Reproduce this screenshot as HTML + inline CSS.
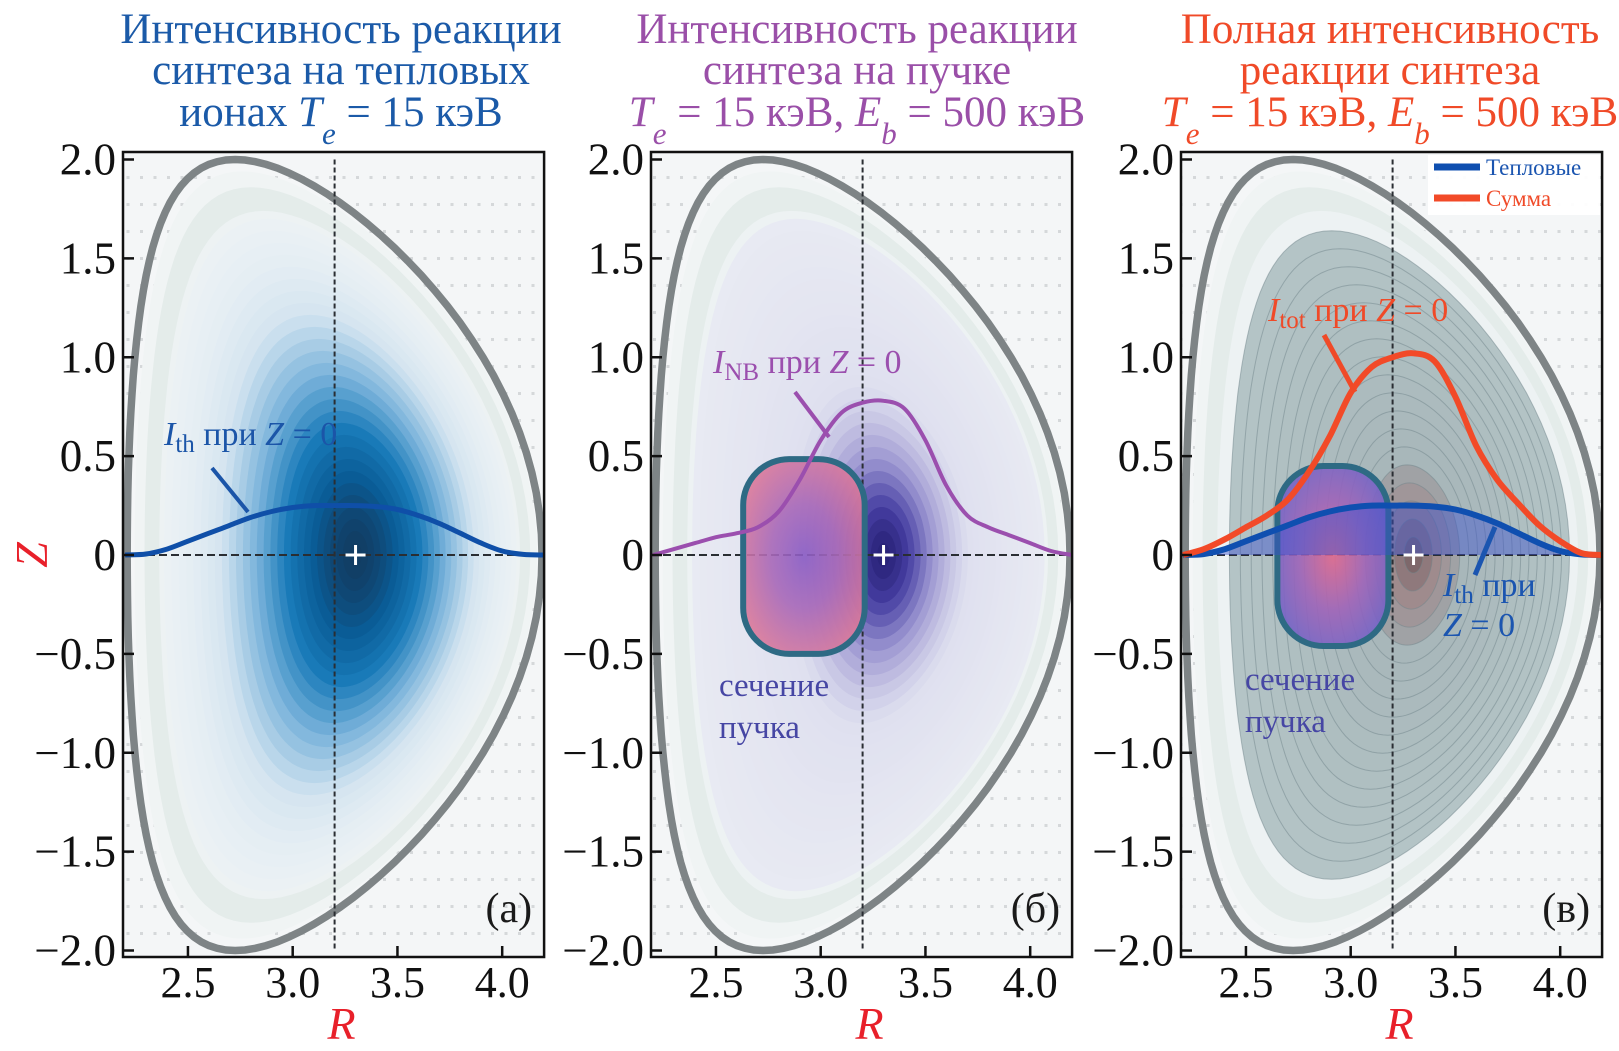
<!DOCTYPE html>
<html><head><meta charset="utf-8">
<style>
html,body{margin:0;padding:0;background:#fff;}
svg{display:block;font-family:"Liberation Serif","DejaVu Serif",serif;}
</style></head>
<body>
<svg id="fig" width="1619" height="1051" viewBox="0 0 1619 1051" xmlns="http://www.w3.org/2000/svg">
<defs>
  <pattern id="dots" x="0" y="4" width="13.5" height="27" patternUnits="userSpaceOnUse">
    <rect x="5" y="10" width="3" height="3" fill="#d5d8da"/>
  </pattern>
  <radialGradient id="beamB" cx="0.5" cy="0.5" r="0.6">
    <stop offset="0" stop-color="#8a5cc4"/>
    <stop offset="0.45" stop-color="#a868b8"/>
    <stop offset="1" stop-color="#e07a96"/>
  </radialGradient>
  <radialGradient id="beamC" cx="0.5" cy="0.5" r="0.6">
    <stop offset="0" stop-color="#e0688e"/>
    <stop offset="0.5" stop-color="#a064b8"/>
    <stop offset="1" stop-color="#6e62c8"/>
  </radialGradient>
</defs>
</svg>
<script>
// ---- data ----
const rGrid = [2.2,2.3,2.4,2.5,2.6,2.7,2.8,2.9,3.0,3.1,3.2,3.3,3.4,3.5,3.6,3.7,3.8,3.9,4.0,4.1,4.2];
const ithValues = [0,0.005,0.03,0.07,0.11,0.15,0.19,0.22,0.24,0.25,0.25,0.25,0.245,0.23,0.2,0.16,0.11,0.06,0.02,0.003,0];
const nbValues = [0,0.03,0.06,0.09,0.11,0.14,0.22,0.38,0.58,0.72,0.77,0.78,0.74,0.58,0.35,0.2,0.14,0.1,0.06,0.02,0];
const totValues = [0,0.03,0.08,0.14,0.2,0.28,0.42,0.6,0.82,0.95,1.0,1.02,0.98,0.8,0.55,0.38,0.26,0.15,0.07,0.01,0];
const xTicks = [2.5,3.0,3.5,4.0];
const xTickLabels = ["2.5","3.0","3.5","4.0"];
const yTicks = [2,1.5,1,0.5,0,-0.5,-1,-1.5,-2];
const yTickLabels = ["2.0","1.5","1.0","0.5","0","\u22120.5","\u22121.0","\u22121.5","\u22122.0"];
const beamBox = [2.63, 3.21, -0.5, 0.485];
const beamBoxC = [2.65, 3.18, -0.46, 0.45];
const axisCenterR = 3.2;
const magAxis = [3.3, 0];

const NS = "http://www.w3.org/2000/svg";
const svg = document.getElementById('fig');
const defs = svg.querySelector('defs');
const RMIN = 2.19, RMAX = 4.2, PXR = 209.5, Z0PX = 555, PXZ = 197.75;
const TOP = 152, BOT = 957;
const panelLefts = [123, 651, 1181];

function el(tag, attrs, parent){
  const e = document.createElementNS(NS, tag);
  for (const k in attrs) e.setAttribute(k, attrs[k]);
  (parent||svg).appendChild(e);
  return e;
}
function mkX(L){ return R => L + (R - RMIN) * PXR; }
function ys(Z){ return Z0PX - Z * PXZ; }

function surface(rho, xs){
  let d = "";
  for (let i = 0; i <= 120; i++){
    const t = i / 120 * 2 * Math.PI;
    const R = 3.2 + 0.1 * (1 - rho*rho) + rho * 0.99 * Math.cos(t + 0.5 * rho * Math.sin(t));
    const Z = 2.0 * rho * Math.sin(t);
    d += (i ? "L" : "M") + xs(R).toFixed(1) + "," + ys(Z).toFixed(1);
  }
  return d + "Z";
}
function lerpColor(stops, f){
  f = Math.max(0, Math.min(1, f));
  for (let i = 1; i < stops.length; i++){
    if (f <= stops[i][0]){
      const a = stops[i-1], b = stops[i];
      const u = (f - a[0]) / (b[0] - a[0]);
      return "rgb(" + [0,1,2].map(k => Math.round(a[1][k] + (b[1][k]-a[1][k])*u)).join(",") + ")";
    }
  }
  return "rgb(" + stops[stops.length-1][1].join(",") + ")";
}
const blues = [[0,[238,243,245]],[0.25,[212,228,240]],[0.5,[120,178,218]],[0.72,[24,122,184]],[0.88,[10,92,150]],[1,[18,60,98]]];
const purples = [[0,[236,238,244]],[0.3,[222,223,239]],[0.6,[150,144,206]],[0.85,[70,62,162]],[1,[40,34,120]]];
const grays = [[0,[236,240,240]],[0.15,[200,214,214]],[0.3,[180,196,198]],[0.7,[160,174,178]],[0.85,[160,140,142]],[1,[110,86,90]]];

function linePath(xs, vals){
  const pts = rGrid.map((r,i) => [xs(r), ys(vals[i])]);
  let d = "M" + pts[0][0].toFixed(1) + "," + pts[0][1].toFixed(1);
  for (let i = 0; i < pts.length - 1; i++){
    const p0 = pts[Math.max(0,i-1)], p1 = pts[i], p2 = pts[i+1], p3 = pts[Math.min(pts.length-1,i+2)];
    const c1 = [p1[0] + (p2[0]-p0[0])/6, p1[1] + (p2[1]-p0[1])/6];
    const c2 = [p2[0] - (p3[0]-p1[0])/6, p2[1] - (p3[1]-p1[1])/6];
    d += "C" + c1.map(v=>v.toFixed(1)).join(",") + " " + c2.map(v=>v.toFixed(1)).join(",") + " " + p2.map(v=>v.toFixed(1)).join(",");
  }
  return d;
}

function drawPanel(p){
  const L = panelLefts[p], xs = mkX(L), Rr = xs(RMAX);
  const g = el('g', {});
  
  
  const cid = 'clip' + p;
  const cp = el('clipPath', {id: cid}, defs);
  el('rect', {x: L, y: TOP, width: Rr - L, height: BOT - TOP}, cp);
  const plot = el('g', {'clip-path': 'url(#' + cid + ')'}, g);
  const bg = el('rect', {x: L, y: TOP, width: Rr - L, height: BOT - TOP, fill: '#f4f6f7'}, plot);
  
  
  el('rect', {x: L, y: TOP, width: Rr - L, height: BOT - TOP, fill: 'url(#dots)'}, plot);

  const cont = el('g', {}, plot);
  
  
  el('path', {d: surface(0.97, xs), fill: '#f0f4f4'}, cont);
  el('path', {d: surface(0.93, xs), fill: '#e4ecea'}, cont);
  el('path', {d: surface(0.87, xs), fill: '#edf2f3'}, cont);
  const N = p === 2 ? 18 : 28;
  for (let i = 0; i < N; i++){
    const rho = (p === 2 ? 0.82 : 0.85) * (1 - i / N);
    let f, stroke = 'none';
    if (p === 0){ f = Math.pow(1 - rho*rho, 2.8); }
    else if (p === 1){ f = 0.3 * (1 - rho*rho) + 0.7 * Math.exp(-(rho/0.28)*(rho/0.28)); }
    else { f = 0.3 + 0.35*(1-rho/0.82); if (rho < 0.26) f = 0.72 + 0.28*(1 - rho/0.26); stroke = '#71858b'; }
    const cmap = p === 0 ? blues : (p === 1 ? purples : grays);
    const a = {d: surface(rho, xs), fill: lerpColor(cmap, f)};
    if (stroke !== 'none'){ a.stroke = stroke; a['stroke-width'] = 1; a['stroke-opacity'] = 0.5; }
    el('path', a, cont);
  }
  const bd = el('path', {d: surface(1.0, xs), fill: 'none', stroke: '#7e8486', 'stroke-width': 7.5}, plot);
  
  

  const vl = el('line', {x1: xs(axisCenterR), x2: xs(axisCenterR), y1: ys(2), y2: ys(-2), stroke: '#2a2e33', 'stroke-width': 2, 'stroke-dasharray': '5,3'}, plot);
  
  
  const hl = el('line', {x1: L, x2: Rr, y1: ys(0), y2: ys(0), stroke: '#2a2e33', 'stroke-width': 2, 'stroke-dasharray': '8,4'}, plot);
  
  

  if (p > 0){
    const bb = p === 1 ? beamBox : beamBoxC;
    const bx = el('rect', {x: xs(bb[0]), y: ys(bb[3]), width: xs(bb[1]) - xs(bb[0]), height: ys(bb[2]) - ys(bb[3]), rx: 46, ry: 46,
      fill: p === 1 ? 'url(#beamB)' : 'url(#beamC)', 'fill-opacity': 0.9, stroke: '#2e6a84', 'stroke-width': 6}, plot);
    
    
  }
  if (p === 0){
    const c = el('path', {d: linePath(xs, ithValues), fill: 'none', stroke: '#0f4fa8', 'stroke-width': 5}, plot);
    
    
  } else if (p === 1){
    const c = el('path', {d: linePath(xs, nbValues), fill: 'none', stroke: '#9b4fae', 'stroke-width': 4}, plot);
    
    
  } else {
    const fillD = linePath(xs, ithValues) + "L" + xs(rGrid[rGrid.length-1]) + "," + ys(0) + "L" + xs(rGrid[0]) + "," + ys(0) + "Z";
    const f = el('path', {d: fillD, fill: '#3a4fcf', 'fill-opacity': 0.45}, plot);
    
    
    const c1 = el('path', {d: linePath(xs, ithValues), fill: 'none', stroke: '#0f4fb0', 'stroke-width': 6}, plot);
    
    
    const c2 = el('path', {d: linePath(xs, totValues), fill: 'none', stroke: '#f24a28', 'stroke-width': 6}, plot);
    
    
  }
  const mx = xs(magAxis[0]), my = ys(magAxis[1]);
  const mk = el('path', {d: `M${mx-10},${my}H${mx+10}M${mx},${my-10}V${my+10}`, stroke: '#ffffff', 'stroke-width': 3}, plot);
  
  

  const fr = el('rect', {x: L, y: TOP, width: Rr - L, height: BOT - TOP, fill: 'none', stroke: '#111', 'stroke-width': 2.5}, g);
  
  
  yTicks.forEach((v, i) => {
    el('line', {x1: L, x2: L + 11, y1: ys(v), y2: ys(v), stroke: '#111', 'stroke-width': 2.5}, g);
    const t = el('text', {x: L - 7, y: ys(v) + 15, 'text-anchor': 'end', 'font-size': 45, fill: '#111'}, g);
    t.textContent = yTickLabels[i];
    
    
  });
  xTicks.forEach((v, i) => {
    el('line', {x1: xs(v), x2: xs(v), y1: BOT, y2: BOT - 11, stroke: '#111', 'stroke-width': 2.5}, g);
    const t = el('text', {x: xs(v), y: 997, 'text-anchor': 'middle', 'font-size': 44, fill: '#111'}, g);
    t.textContent = xTickLabels[i];
    
    
  });
  const xl = el('text', {x: (L + Rr) / 2 + 8, y: 1039, 'text-anchor': 'middle', 'font-size': 46, 'font-style': 'italic', fill: '#e8202a'}, g);
  xl.textContent = 'R';
  
  
  const pl = el('text', {x: Rr - 12, y: 922, 'text-anchor': 'end', 'font-size': 42, fill: '#1a1a1a'}, g);
  pl.textContent = ['(a)','(б)','(в)'][p];
  
  
  return {xs, L, Rr, g};
}

const P = [0,1,2].map(drawPanel);

const zl = el('text', {x: 0, y: 0, transform: 'translate(47,555) rotate(-90)', 'text-anchor': 'middle', 'font-size': 46, 'font-style': 'italic', fill: '#e8202a'});
zl.textContent = 'Z';



function title(cx, lines, color, name){
  const t = el('text', {x: cx, y: 0, 'text-anchor': 'middle', 'font-size': 43, fill: color});
  
  
  t.innerHTML = lines;
}
const TE = `<tspan font-style="italic">T</tspan><tspan font-style="italic" baseline-shift="sub" font-size="31">e</tspan>`;
const EB = `<tspan font-style="italic">E</tspan><tspan font-style="italic" baseline-shift="sub" font-size="31">b</tspan>`;
title(341, `<tspan x="341" y="43">Интенсивность реакции</tspan><tspan x="341" y="84">синтеза на тепловых</tspan><tspan x="341" y="126">ионах ${TE} = 15 кэВ</tspan>`, '#1b5aa8', 'title-panel-a');
title(857, `<tspan x="857" y="43">Интенсивность реакции</tspan><tspan x="857" y="84">синтеза на пучке</tspan><tspan x="857" y="126">${TE} = 15 кэВ, ${EB} = 500 кэВ</tspan>`, '#9a4fa8', 'title-panel-b');
title(1390, `<tspan x="1390" y="43">Полная интенсивность</tspan><tspan x="1390" y="84">реакции синтеза</tspan><tspan x="1390" y="126">${TE} = 15 кэВ, ${EB} = 500 кэВ</tspan>`, '#f04a28', 'title-panel-c');

function ann(x, y, html, color, size, name){
  const t = el('text', {x, y, 'font-size': size, fill: color});
  t.innerHTML = html;
  
  
}
function ptr(x1,y1,x2,y2,color,w,name){
  const l = el('line', {x1,y1,x2,y2,stroke: color,'stroke-width': w});
  
  
}
ann(164, 445, `<tspan font-style="italic">I</tspan><tspan font-size="25" dy="7">th</tspan><tspan dy="-7"> при </tspan><tspan font-style="italic">Z</tspan> = 0`, '#1b55a8', 34, 'ith-annotation');
ptr(212, 468, 248, 512, '#1b55a8', 4, 'ith-pointer');
ann(713, 373, `<tspan font-style="italic">I</tspan><tspan font-size="25" dy="7">NB</tspan><tspan dy="-7"> при </tspan><tspan font-style="italic">Z</tspan> = 0`, '#9b4fae', 34, 'inb-annotation');
ptr(795, 392, 829, 437, '#9b4fae', 4, 'inb-pointer');
ann(719, 696, 'сечение', '#4646a4', 33, 'beam-label-line1');
ann(719, 738, 'пучка', '#4646a4', 33, 'beam-label-line2');
ann(1268, 321, `<tspan font-style="italic">I</tspan><tspan font-size="25" dy="7">tot</tspan><tspan dy="-7"> при </tspan><tspan font-style="italic">Z</tspan> = 0`, '#f04a28', 34, 'itot-annotation');
ptr(1324, 335, 1355, 392, '#f04a28', 5, 'itot-pointer');
ann(1443, 596, `<tspan font-style="italic">I</tspan><tspan font-size="25" dy="7">th</tspan><tspan dy="-7"> при</tspan>`, '#1b55b0', 34, 'ith-annotation-c');
ann(1443, 636, `<tspan font-style="italic">Z</tspan> = 0`, '#1b55b0', 34, 'ith-annotation-c-line2');
ptr(1495, 527, 1475, 575, '#1b55b0', 5, 'ith-pointer-c');
ann(1245, 690, 'сечение', '#4646a4', 33, 'beam-label-c-line1');
ann(1245, 732, 'пучка', '#4646a4', 33, 'beam-label-c-line2');

const lg = el('g', {});


el('rect', {x: 1428, y: 155, width: 172, height: 60, fill: '#ffffff', 'fill-opacity': 0.95}, lg);
el('line', {x1: 1434, x2: 1480, y1: 167, y2: 167, stroke: '#0f4fb0', 'stroke-width': 7}, lg);
el('line', {x1: 1434, x2: 1480, y1: 198, y2: 198, stroke: '#f24a28', 'stroke-width': 7}, lg);
const l1 = el('text', {x: 1486, y: 175, 'font-size': 23, fill: '#1b55b0'}, lg);
l1.textContent = 'Тепловые';


const l2 = el('text', {x: 1486, y: 206, 'font-size': 23, fill: '#f04a28'}, lg);
l2.textContent = 'Сумма';


</script>
</body></html>
